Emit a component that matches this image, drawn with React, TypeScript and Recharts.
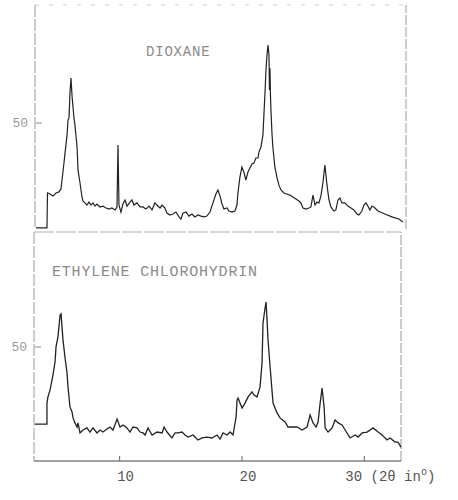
import React from "react";
import { LineChart, Line, XAxis, YAxis, ReferenceLine } from "recharts";

// 2θ range of both scans
const X_MIN = 3;
const X_MAX = 33;

// top trace: dioxane
const dioxaneTheta = [
  3.08, 3.97, 4.01, 4.21, 4.46, 4.7, 4.94, 5.1, 5.26, 5.43, 5.59, 5.67, 5.75, 5.83, 5.91, 5.99,
  6.15, 6.23, 6.4, 6.48, 6.64, 6.8, 6.88, 7.04, 7.2, 7.36, 7.53, 7.69, 7.85, 8.01, 8.25, 8.5,
  8.74, 8.98, 9.22, 9.47, 9.63, 9.71, 9.79, 9.95, 10.11, 10.28, 10.44, 10.68, 10.84, 11.0, 11.25,
  11.49, 11.73, 11.97, 12.22, 12.46, 12.7, 12.86, 13.11, 13.27, 13.51, 13.67, 13.91, 14.16, 14.4,
  14.64, 14.8, 14.96, 15.21, 15.45, 15.69, 15.93, 16.18, 16.42, 16.66, 16.9, 17.15, 17.39, 17.63,
  17.79, 17.96, 18.12, 18.28, 18.52, 18.68, 18.93, 19.17, 19.33, 19.41, 19.57, 19.73, 19.89, 20.05,
  20.22, 20.38, 20.54, 20.7, 20.86, 21.03, 21.11, 21.27, 21.43, 21.51, 21.59, 21.67, 21.76, 21.84,
  21.92, 21.96, 22.0, 22.04, 22.08, 22.16, 22.24, 22.4, 22.56, 22.72, 22.89, 23.13, 23.37, 23.61,
  23.86, 24.1, 24.34, 24.5, 24.67, 24.91, 25.15, 25.31, 25.48, 25.64, 25.8, 25.96, 26.12, 26.28,
  26.44, 26.61, 26.77, 26.93, 27.17, 27.33, 27.5, 27.66, 27.82, 28.06, 28.3, 28.55, 28.79, 29.03,
  29.19, 29.43, 29.6, 29.76, 29.92, 30.08, 30.24, 30.49, 30.73, 31.29, 31.86, 32.43, 32.75,
];
const dioxaneCounts = [
  0.5, 0.5, 17.0, 16.5, 15.6, 17.0, 17.5, 18.9, 26.9, 35.8, 44.3, 51.4, 52.4, 64.6, 71.2, 63.2,
  52.4, 49.1, 38.7, 27.8, 21.7, 15.1, 13.2, 12.3, 11.3, 12.7, 11.3, 12.3, 10.8, 11.8, 10.4, 10.8,
  9.9, 9.4, 9.9, 9.0, 10.4, 39.6, 11.3, 8.0, 11.8, 13.7, 10.8, 12.7, 13.7, 11.3, 12.3,
  10.4, 10.4, 9.4, 10.8, 9.0, 12.3, 11.3, 9.9, 11.3, 9.9, 7.5, 6.6, 7.1, 8.0,
  5.7, 4.7, 7.5, 8.0, 6.1, 7.1, 5.7, 6.6, 6.1, 5.7, 6.1, 8.0, 12.3, 16.5,
  18.4, 15.6, 11.8, 9.4, 9.9, 8.5, 8.0, 8.5, 11.3, 17.0, 24.5, 29.2, 26.9, 23.1,
  26.9, 28.8, 30.7, 31.1, 33.5, 33.5, 36.3, 38.7, 44.3, 53.8, 63.2, 74.1, 82.1, 86.8,
  82.1, 65.6, 75.9, 63.2, 56.1, 45.3, 38.2, 29.2, 24.5, 20.8, 18.4, 17.0, 16.5, 16.0,
  15.1, 14.2, 13.2, 12.3, 9.9, 9.4, 9.9, 10.4, 16.0, 11.3, 12.7, 12.3, 15.6, 21.7,
  30.2, 20.8, 13.7, 10.4, 8.5, 9.0, 13.7, 14.6, 12.3, 12.3, 10.8, 9.9, 9.0, 7.1,
  6.6, 8.5, 11.3, 12.3, 10.8, 9.0, 10.8, 9.9, 8.5, 7.1, 5.7, 4.7, 3.3,
];

// bottom trace: ethylene chlorohydrin
const chloroTheta = [
  3.08, 4.06, 4.06, 4.14, 4.31, 4.47, 4.55, 4.72, 4.8, 4.96, 5.13, 5.21, 5.29, 5.37, 5.53, 5.7,
  5.78, 5.94, 6.11, 6.19, 6.35, 6.52, 6.6, 6.76, 7.01, 7.33, 7.58, 7.82, 8.15, 8.4, 8.64, 8.97,
  9.21, 9.46, 9.79, 10.03, 10.28, 10.6, 10.85, 11.09, 11.42, 11.67, 11.91, 12.08, 12.32, 12.65,
  13.06, 13.47, 13.63, 13.87, 14.28, 14.53, 14.77, 15.1, 15.35, 15.59, 16.0, 16.41, 16.74, 17.15,
  17.55, 17.96, 18.21, 18.45, 18.78, 19.03, 19.27, 19.52, 19.6, 19.68, 19.84, 20.01, 20.25, 20.5,
  20.82, 20.99, 21.23, 21.48, 21.64, 21.72, 21.89, 21.97, 22.05, 22.13, 22.3, 22.54, 22.87, 23.11,
  23.52, 23.77, 24.1, 24.5, 24.91, 25.32, 25.57, 25.81, 26.06, 26.22, 26.39, 26.55, 26.72, 26.8,
  27.04, 27.37, 27.61, 27.86, 28.18, 28.43, 28.84, 29.25, 29.49, 29.82, 30.23, 30.72, 31.13, 31.45,
  31.86, 32.11, 32.52, 32.76, 33.0,
];
const chloroCounts = [
  16.2, 16.2, 25.4, 28.1, 31.1, 35.5, 37.7, 43.4, 50.0, 54.4, 64.0, 64.5, 58.8, 53.1, 45.6, 38.6,
  32.5, 23.7, 21.5, 18.9, 16.7, 14.9, 16.7, 12.3, 13.6, 14.5, 12.7, 14.5, 12.3, 13.6, 12.7, 14.0,
  14.9, 13.6, 18.4, 14.9, 15.8, 14.5, 12.7, 14.9, 14.5, 12.7, 12.3, 11.4, 14.5, 11.4,
  12.7, 12.3, 14.9, 12.7, 10.1, 12.3, 12.3, 12.7, 11.4, 10.5, 11.4, 9.2, 10.1, 10.5,
  10.1, 11.4, 9.6, 12.3, 11.4, 12.7, 11.4, 19.3, 26.8, 27.6, 25.4, 23.2, 25.4, 28.1,
  30.3, 28.9, 28.1, 32.5, 43.0, 60.5, 67.1, 69.7, 61.8, 53.1, 41.2, 25.4, 21.1, 18.9,
  17.1, 14.9, 14.9, 14.9, 13.6, 14.9, 20.2, 16.7, 14.9, 17.1, 25.4, 32.0, 23.2, 14.5,
  12.7, 14.5, 18.0, 16.7, 15.8, 13.6, 10.1, 11.4, 10.5, 12.3, 12.7, 14.5, 12.7, 11.4,
  9.2, 10.1, 8.3, 8.3, 6.1,
];

const xTicks = [10, 20, 30];
const yTicks = [50];

const dioxaneData = dioxaneTheta.map((t, i) => ({ t, v: dioxaneCounts[i] }));
const chloroData = chloroTheta.map((t, i) => ({ t, v: chloroCounts[i] }));

const INK = "#222";
const FRAME = "#9a9a9a";
const TYPE = "'Liberation Mono', 'DejaVu Sans Mono', monospace";

const FiftyTick = ({ x, y, payload }: any) => (
  <g>
    <text x={x - 5} y={y} dy={4} textAnchor="end" fontSize={13} fontFamily={TYPE} fill="#999">
      {payload.value}
    </text>
    <line x1={x + 3} x2={x + 9} y1={y} y2={y} stroke="#888" strokeWidth={1} />
  </g>
);

const AngleTick = ({ x, y, payload }: any) => {
  const v = payload.value;
  return (
    <g>
      <line x1={x} x2={x} y1={y - 2} y2={y - 7} stroke="#666" strokeWidth={1} />
      {v === 30 ? (
        <text x={x - 19} y={y + 18} fontSize={14} fontFamily={TYPE} fill="#555">
          30 (2θ in
          <tspan dy={-6} fontSize={10}>o</tspan>
          <tspan dy={6}>)</tspan>
        </text>
      ) : (
        <text x={x + 6} y={y + 18} textAnchor="middle" fontSize={14} fontFamily={TYPE} fill="#555">
          {v}
        </text>
      )}
    </g>
  );
};

export default function App() {
  return (
    <div style={{ position: "absolute", left: 0, top: 0, width: 458, height: 500, background: "#fff" }}>
      {/* upper scan */}
      <div style={{ position: "absolute", left: 0, top: 0 }}>
        <LineChart width={458} height={240} data={dioxaneData} margin={{ top: 5, right: 52, bottom: 11, left: 0 }}>
          <XAxis
            dataKey="t"
            type="number"
            domain={[X_MIN, X_MAX]}
            height={0}
            tick={false}
            tickLine={false}
            axisLine={{ stroke: "#888", strokeDasharray: "20 2" }}
          />
          <YAxis
            type="number"
            domain={[0, 105.7]}
            ticks={yTicks}
            width={35}
            tickSize={0}
            tick={<FiftyTick />}
            axisLine={{ stroke: FRAME, strokeDasharray: "12 2" }}
          />
          <ReferenceLine x={X_MAX} stroke={FRAME} strokeDasharray="10 2" />
          <ReferenceLine y={105.7} stroke="#d0d0d0" strokeDasharray="4 10" />
          <Line
            type="linear"
            dataKey="v"
            stroke={INK}
            strokeWidth={1.2}
            dot={false}
            isAnimationActive={false}
          />
        </LineChart>
      </div>

      {/* lower scan */}
      <div style={{ position: "absolute", left: 0, top: 0 }}>
        <LineChart width={458} height={500} data={chloroData} margin={{ top: 232, right: 57, bottom: 0, left: 0 }}>
          <XAxis
            dataKey="t"
            type="number"
            domain={[X_MIN, X_MAX]}
            ticks={xTicks}
            height={39}
            tickSize={0}
            tick={<AngleTick />}
            axisLine={{ stroke: "#444", strokeWidth: 1.2 }}
          />
          <YAxis
            type="number"
            domain={[0, 100.4]}
            ticks={yTicks}
            width={34}
            tickSize={0}
            tick={<FiftyTick />}
            axisLine={{ stroke: FRAME, strokeDasharray: "12 2" }}
          />
          <ReferenceLine x={X_MAX} stroke={FRAME} strokeDasharray="10 2" />
          <ReferenceLine y={100.4} stroke="#b0b0b0" strokeDasharray="20 2" />
          <Line
            type="linear"
            dataKey="v"
            stroke={INK}
            strokeWidth={1.3}
            dot={false}
            isAnimationActive={false}
          />
        </LineChart>
      </div>

      <div
        style={{
          position: "absolute",
          left: 146,
          top: 44,
          fontFamily: TYPE,
          fontSize: 14,
          letterSpacing: 0.8,
          color: "#8a8a8a",
          lineHeight: "16px",
        }}
      >
        DIOXANE
      </div>
      <div
        style={{
          position: "absolute",
          left: 52,
          top: 265,
          fontFamily: TYPE,
          fontSize: 15,
          letterSpacing: 0.8,
          color: "#8a8a8a",
          lineHeight: "16px",
          whiteSpace: "nowrap",
        }}
      >
        ETHYLENE CHLOROHYDRIN
      </div>
    </div>
  );
}
